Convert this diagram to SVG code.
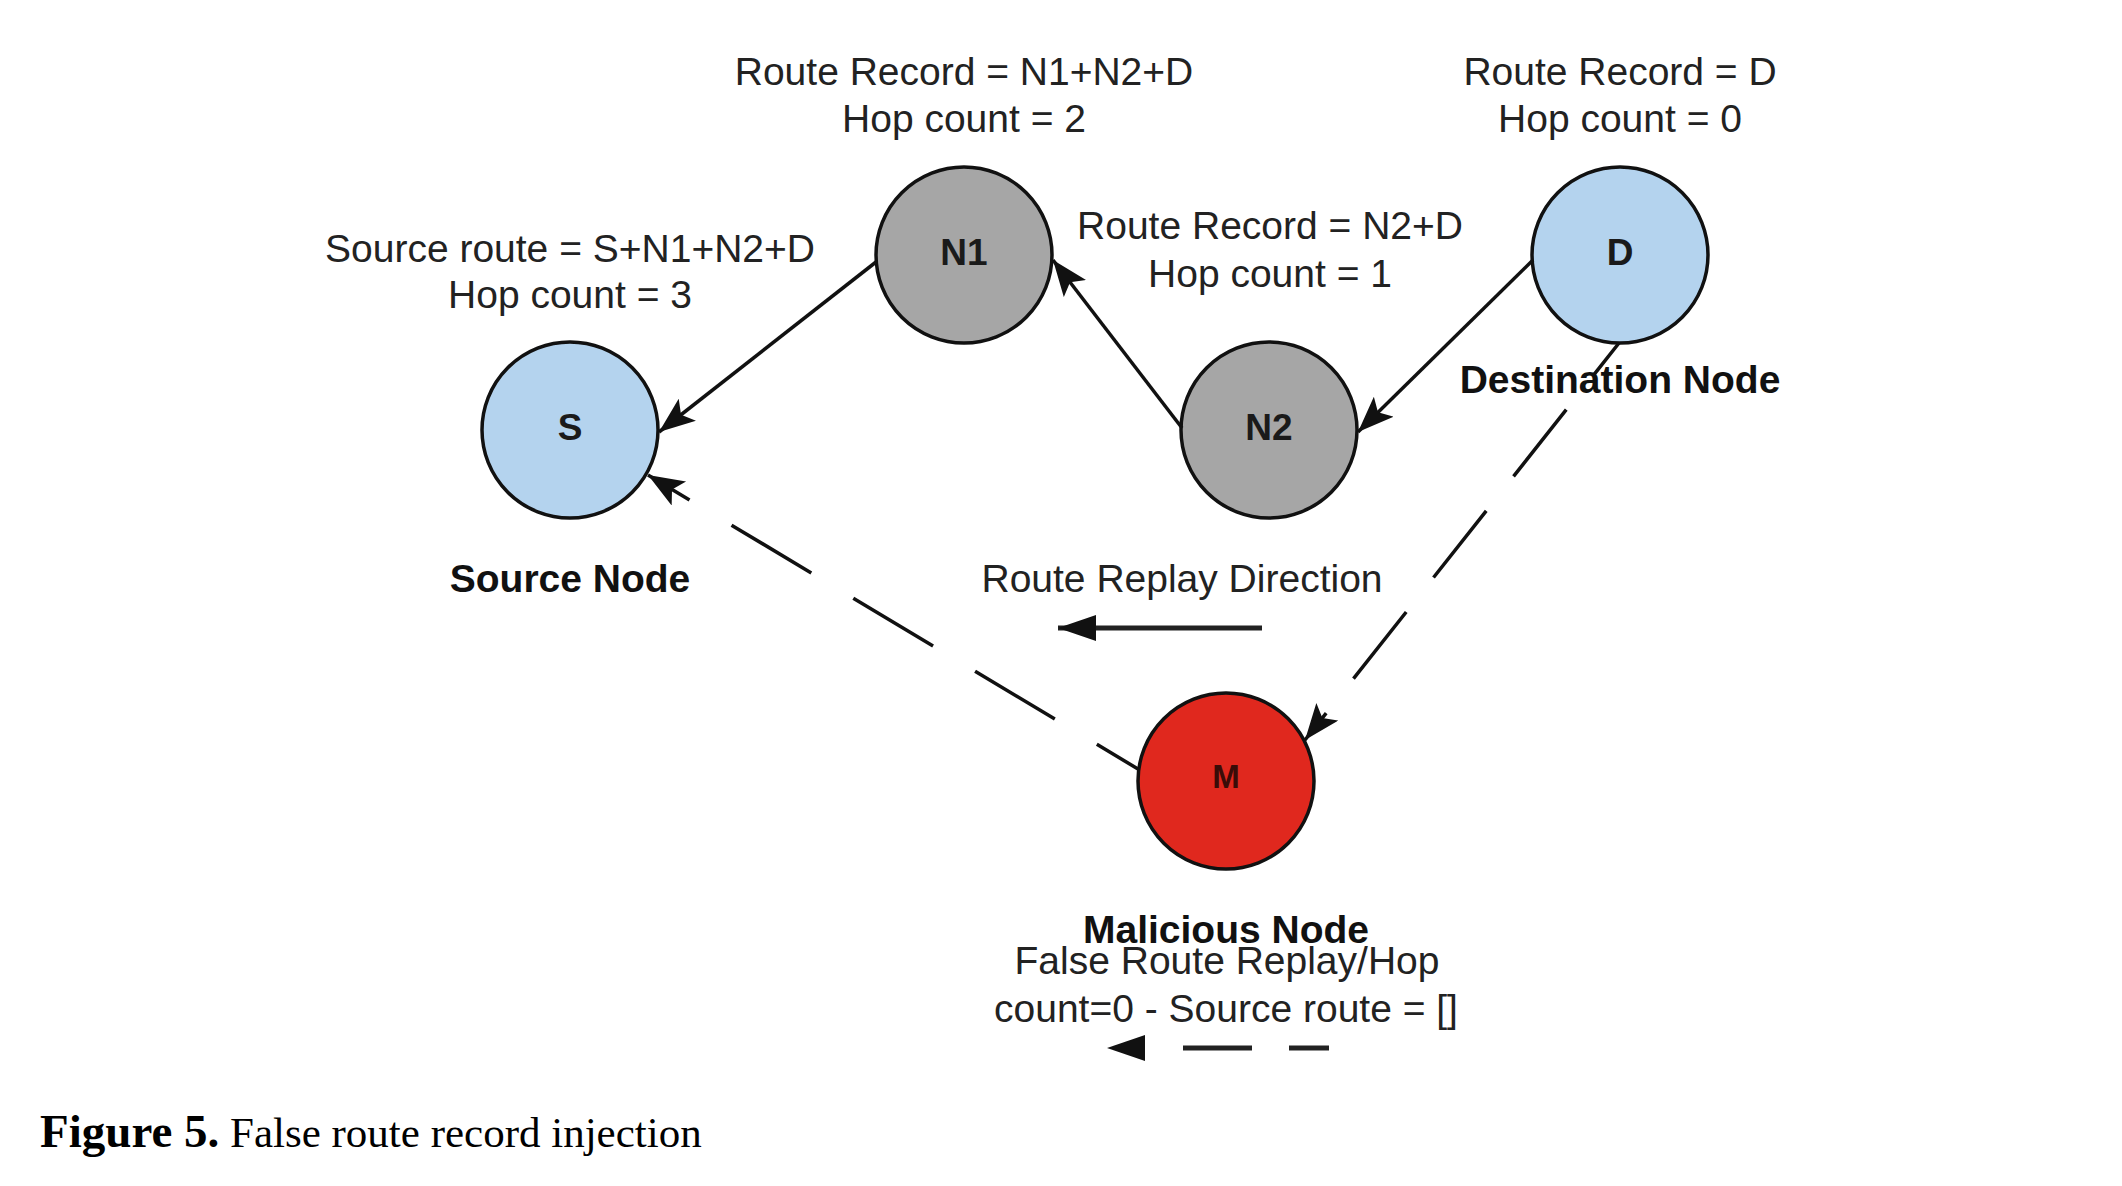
<svg xmlns="http://www.w3.org/2000/svg" width="2122" height="1186" viewBox="0 0 2122 1186">
<style>
.bg{fill:#ffffff}
.node{stroke:#111;stroke-width:3.5}
.blue{fill:#b4d3ee}
.gray{fill:#a6a6a6}
.red{fill:#e0281e}
.nl{font-family:"Liberation Sans",Arial,sans-serif;font-weight:bold;font-size:37px;fill:#1a1a1a;text-anchor:middle}
.lbl{font-family:"Liberation Sans",Arial,sans-serif;font-size:39px;fill:#222;text-anchor:middle}
.bold{font-weight:bold;fill:#111}
.edge{fill:none;stroke:#111;stroke-width:3.5}
.thick{fill:none;stroke:#222;stroke-width:5}
.cap{font-family:"Liberation Serif","Times New Roman",serif;font-size:43px;fill:#000}
</style>
<defs>
<marker id="ah" markerUnits="userSpaceOnUse" markerWidth="38" markerHeight="30" refX="36" refY="14" orient="auto">
<path d="M0,0 L36,14 L0,28 L8,14 z" fill="#111"/>
</marker>
<marker id="ahBig" markerUnits="userSpaceOnUse" markerWidth="40" markerHeight="28" refX="38" refY="13" orient="auto">
<path d="M0,0 L38,13 L0,26 z" fill="#111"/>
</marker>
</defs>
<rect class="bg" x="0" y="0" width="2122" height="1186"/>

<g id="node-S">
<circle class="node blue" cx="570" cy="430" r="88"/>
<text class="nl" x="570" y="440">S</text>
<text class="lbl bold" x="570" y="592">Source Node</text>
</g>
<g id="node-N1">
<circle class="node gray" cx="964" cy="255" r="88"/>
<text class="nl" x="964" y="265">N1</text>
</g>
<g id="node-N2">
<circle class="node gray" cx="1269" cy="430" r="88"/>
<text class="nl" x="1269" y="440">N2</text>
</g>
<g id="node-D">
<circle class="node blue" cx="1620" cy="255" r="88"/>
<text class="nl" x="1620" y="265">D</text>
<text class="lbl bold" x="1620" y="393">Destination Node</text>
</g>
<g id="node-M">
<circle class="node red" cx="1226" cy="781" r="88"/>
<text class="nl" x="1226" y="788" style="font-size:33px;fill:#3a0c08">M</text>
<text class="lbl bold" x="1226" y="943">Malicious Node</text>
<text class="lbl" x="1227" y="974">False Route Replay/Hop</text>
<text class="lbl" x="1226" y="1022">count=0 - Source route = []</text>
</g>

<g id="labels">
<text class="lbl" x="964" y="85">Route Record = N1+N2+D</text>
<text class="lbl" x="964" y="132">Hop count = 2</text>
<text class="lbl" x="1620" y="85">Route Record = D</text>
<text class="lbl" x="1620" y="132">Hop count = 0</text>
<text class="lbl" x="1270" y="239">Route Record = N2+D</text>
<text class="lbl" x="1270" y="287">Hop count = 1</text>
<text class="lbl" x="570" y="262">Source route = S+N1+N2+D</text>
<text class="lbl" x="570" y="308">Hop count = 3</text>
<text class="lbl" x="1182" y="592">Route Replay Direction</text>
</g>

<g id="connectors">
<path class="edge" d="M876,262 L659,432" marker-end="url(#ah)"/>
<path class="edge" d="M1182,428 L1053,260" marker-end="url(#ah)"/>
<path class="edge" d="M1533,260 L1358,432" marker-end="url(#ah)"/>
<path class="edge" d="M1619,343 L1305,740" stroke-dasharray="85 44" stroke-dashoffset="44" marker-end="url(#ah)"/>
<path class="edge" d="M1138,769 L648,475" stroke-dasharray="93 49" stroke-dashoffset="45" marker-end="url(#ah)"/>
<path class="thick" d="M1262,628 L1058,628" marker-end="url(#ahBig)"/>
<path class="thick" d="M1329,1048 L1107,1048" stroke-dasharray="40 37 69 200" marker-end="url(#ahBig)"/>
</g>

<text class="cap" x="40" y="1147"><tspan font-weight="bold" font-size="47">Figure 5.</tspan> False route record injection</text>
</svg>
